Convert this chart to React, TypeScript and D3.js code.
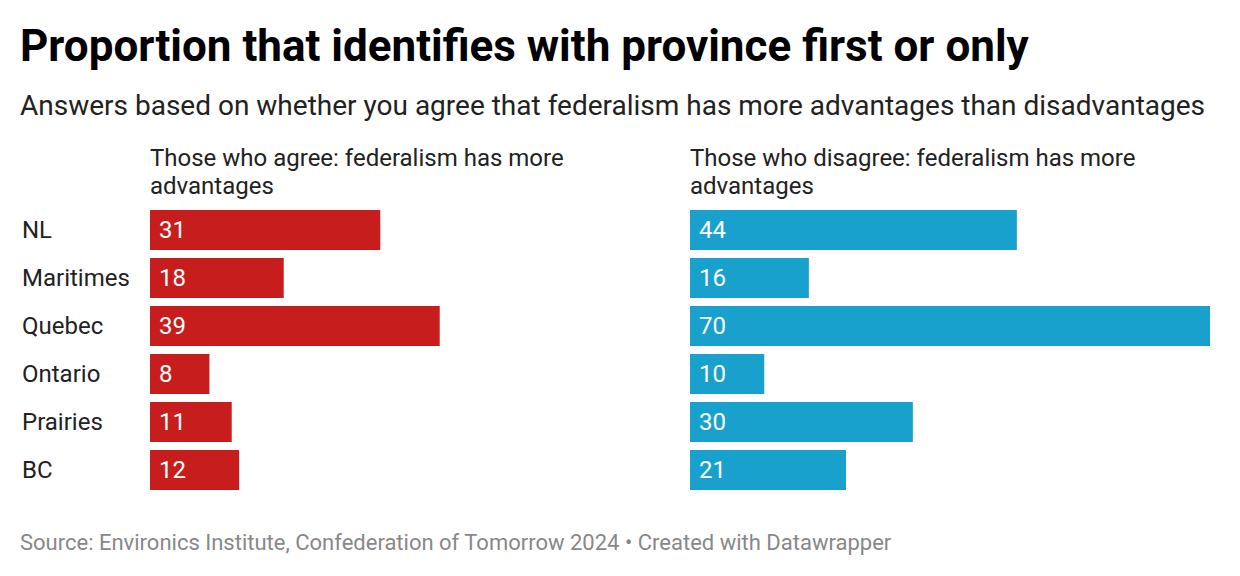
import { useRef, useEffect } from "react";
import * as d3 from "d3";

const regions = ["NL", "Maritimes", "Quebec", "Ontario", "Prairies", "BC"];
const agreeValues = [31, 18, 39, 8, 11, 12];
const disagreeValues = [44, 16, 70, 10, 30, 21];
const panelTitles = [
  ["Those who agree: federalism has more", "advantages"],
  ["Those who disagree: federalism has more", "advantages"],
];
const panelColors = ["#c71e1d", "#18a1cd"];

const W = 1240;
const H = 576;
const FONT = "Roboto, 'Noto Sans', sans-serif";

export default function App() {
  const svgRef = useRef<SVGSVGElement | null>(null);

  useEffect(() => {
    const svg = d3.select(svgRef.current);
    svg.selectAll("*").remove();
    svg.attr("width", W).attr("height", H).style("font-family", FONT);

    svg
      .append("text")
      .attr("x", 20)
      .attr("y", 61)
      .style("font-size", "44px")
      .style("font-weight", "700")
      .attr("fill", "#000")
      .text("Proportion that identifies with province first or only");

    svg
      .append("text")
      .attr("x", 20)
      .attr("y", 115)
      .style("font-size", "28px")
      .attr("fill", "#222")
      .text(
        "Answers based on whether you agree that federalism has more advantages than disadvantages"
      );

    const y = d3
      .scaleBand()
      .domain(regions)
      .range([210, 490])
      .paddingInner(8 / 48)
      .paddingOuter(0)
      .align(0);

    svg
      .append("g")
      .selectAll("text")
      .data(regions)
      .join("text")
      .attr("x", 22)
      .attr("y", (d) => y(d)! + y.bandwidth() / 2)
      .attr("dy", "0.35em")
      .style("font-size", "24px")
      .attr("fill", "#222")
      .text((d) => d);

    const panels = [agreeValues, disagreeValues];
    const starts = [150, 690];
    panels.forEach((vals, i) => {
      const x = d3.scaleLinear().domain([0, 70]).range([starts[i], starts[i] + 520]);
      const g = svg.append("g");

      g.append("g")
        .selectAll("text")
        .data(panelTitles[i])
        .join("text")
        .attr("x", starts[i])
        .attr("y", (_, j) => 166 + j * 28)
        .style("font-size", "24px")
        .attr("fill", "#222")
        .text((d) => d);

      g.append("g")
        .selectAll("rect")
        .data(vals)
        .join("rect")
        .attr("x", x(0))
        .attr("y", (_, j) => y(regions[j])!)
        .attr("width", (d) => x(d) - x(0))
        .attr("height", y.bandwidth())
        .attr("fill", panelColors[i]);

      g.append("g")
        .selectAll("text")
        .data(vals)
        .join("text")
        .attr("x", x(0) + 9)
        .attr("y", (_, j) => y(regions[j])! + y.bandwidth() / 2)
        .attr("dy", "0.35em")
        .style("font-size", "24px")
        .attr("fill", "#fff")
        .text((d) => d);
    });

    svg
      .append("text")
      .attr("x", 20)
      .attr("y", 550)
      .style("font-size", "22px")
      .attr("fill", "#888")
      .text(
        "Source: Environics Institute, Confederation of Tomorrow 2024 \u2022 Created with Datawrapper"
      );
  }, []);

  return (
    <div style={{ position: "fixed", top: 0, left: 0, width: W, height: H, background: "#fff" }}>
      <svg ref={svgRef} style={{ display: "block" }} />
    </div>
  );
}
